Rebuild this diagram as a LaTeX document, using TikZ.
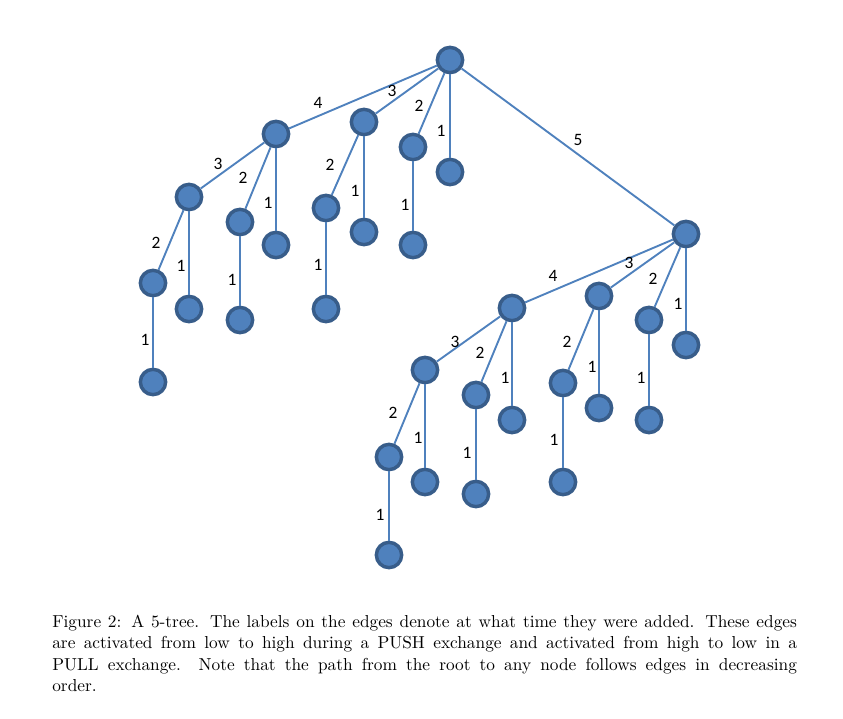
\documentclass[tikz,border=0pt]{standalone}
\usepackage{fontspec}
\newfontfamily\lblfont{Carlito}
\definecolor{nodefill}{HTML}{4F81BD}
\definecolor{nodeborder}{HTML}{385D8A}
\definecolor{edgecol}{HTML}{4F81BD}
\begin{document}
\begin{tikzpicture}[x=0.6325pt,y=-0.6325pt,
  treenode/.style={circle,fill=nodefill,draw=nodeborder,line width=2.2pt,minimum size=16pt,inner sep=0pt},
  treeedge/.style={draw=edgecol,line width=1.2pt},
  lbl/.style={font=\lblfont\fontsize{11}{13}\selectfont,inner sep=0pt,text=black}]
\useasboundingbox (0,0) rectangle (843,719);
% nodes
\node[treenode] (R) at (450,60) {};
\node[treenode] (A) at (276,134) {};
\node[treenode] (B) at (364,122) {};
\node[treenode] (C) at (413,147) {};
\node[treenode] (D) at (450,172) {};
\node[treenode] (E) at (686,234) {};
\node[treenode] (A3) at (189,197) {};
\node[treenode] (A2) at (240,222) {};
\node[treenode] (A1) at (276,245) {};
\node[treenode] (A32) at (153,283) {};
\node[treenode] (A31) at (189,309) {};
\node[treenode] (A321) at (153,382) {};
\node[treenode] (A21) at (240,320) {};
\node[treenode] (B2) at (326,208) {};
\node[treenode] (B1) at (364,232) {};
\node[treenode] (B21) at (326,309) {};
\node[treenode] (C1) at (413,245) {};
\node[treenode] (E4) at (512,308) {};
\node[treenode] (E3) at (599,296) {};
\node[treenode] (E2) at (649,320) {};
\node[treenode] (E1) at (686,345) {};
\node[treenode] (E43) at (425,370) {};
\node[treenode] (E42) at (476,395) {};
\node[treenode] (E41) at (512,420) {};
\node[treenode] (E432) at (389,457) {};
\node[treenode] (E431) at (425,482) {};
\node[treenode] (E4321) at (389,555) {};
\node[treenode] (E421) at (476,494) {};
\node[treenode] (E32) at (563,383) {};
\node[treenode] (E31) at (599,408) {};
\node[treenode] (E321) at (563,482) {};
\node[treenode] (E21) at (649,420) {};
% edges
\draw[treeedge] (R) -- (A);
\draw[treeedge] (R) -- (B);
\draw[treeedge] (R) -- (C);
\draw[treeedge] (R) -- (D);
\draw[treeedge] (R) -- (E);
\draw[treeedge] (A) -- (A3);
\draw[treeedge] (A) -- (A2);
\draw[treeedge] (A) -- (A1);
\draw[treeedge] (A3) -- (A32);
\draw[treeedge] (A3) -- (A31);
\draw[treeedge] (A32) -- (A321);
\draw[treeedge] (A2) -- (A21);
\draw[treeedge] (B) -- (B2);
\draw[treeedge] (B) -- (B1);
\draw[treeedge] (B2) -- (B21);
\draw[treeedge] (C) -- (C1);
\draw[treeedge] (E) -- (E4);
\draw[treeedge] (E) -- (E3);
\draw[treeedge] (E) -- (E2);
\draw[treeedge] (E) -- (E1);
\draw[treeedge] (E4) -- (E43);
\draw[treeedge] (E4) -- (E42);
\draw[treeedge] (E4) -- (E41);
\draw[treeedge] (E43) -- (E432);
\draw[treeedge] (E43) -- (E431);
\draw[treeedge] (E432) -- (E4321);
\draw[treeedge] (E42) -- (E421);
\draw[treeedge] (E3) -- (E32);
\draw[treeedge] (E3) -- (E31);
\draw[treeedge] (E32) -- (E321);
\draw[treeedge] (E2) -- (E21);
% labels
\node[lbl] (lRA) at (318,103) {4};
\node[lbl] (lRB) at (392,91) {3};
\node[lbl] (lRC) at (419,106) {2};
\node[lbl] (lRD) at (441,131) {1};
\node[lbl] (lRE) at (578,140) {5};
\node[lbl] (lAA3) at (218,164) {3};
\node[lbl] (lAA2) at (243,178) {2};
\node[lbl] (lAA1) at (268,203) {1};
\node[lbl] (lA3A32) at (156,243) {2};
\node[lbl] (lA3A31) at (181,266) {1};
\node[lbl] (lA32) at (145,340) {1};
\node[lbl] (lA2) at (232,280) {1};
\node[lbl] (lBB2) at (330,165) {2};
\node[lbl] (lBB1) at (355,191) {1};
\node[lbl] (lB2) at (318,265) {1};
\node[lbl] (lC) at (405,205) {1};
\node[lbl] (lEE4) at (553,276) {4};
\node[lbl] (lEE3) at (629,263) {3};
\node[lbl] (lEE2) at (653,279) {2};
\node[lbl] (lEE1) at (678,304) {1};
\node[lbl] (lE4E43) at (455,342) {3};
\node[lbl] (lE4E42) at (480,353) {2};
\node[lbl] (lE4E41) at (505,378) {1};
\node[lbl] (lE43E432) at (393,413) {2};
\node[lbl] (lE43E431) at (418,438) {1};
\node[lbl] (lE432) at (380,515) {1};
\node[lbl] (lE42) at (467,453) {1};
\node[lbl] (lE3E32) at (567,342) {2};
\node[lbl] (lE3E31) at (592,367) {1};
\node[lbl] (lE32) at (554,440) {1};
\node[lbl] (lE2) at (641,378) {1};
% caption
\node[anchor=base west,inner sep=0pt,text width=471pt,align=justify,
  font=\fontsize{10.95}{13.6}\selectfont] (cap) at (52,627)
  {Figure 2: A 5-tree. The labels on the edges denote at what time they were added. These edges are activated from low to high during a PUSH exchange and activated from high to low in a\linebreak PULL exchange. Note that the path from the root to any node follows edges in decreasing\linebreak order.};
\end{tikzpicture}
\end{document}
